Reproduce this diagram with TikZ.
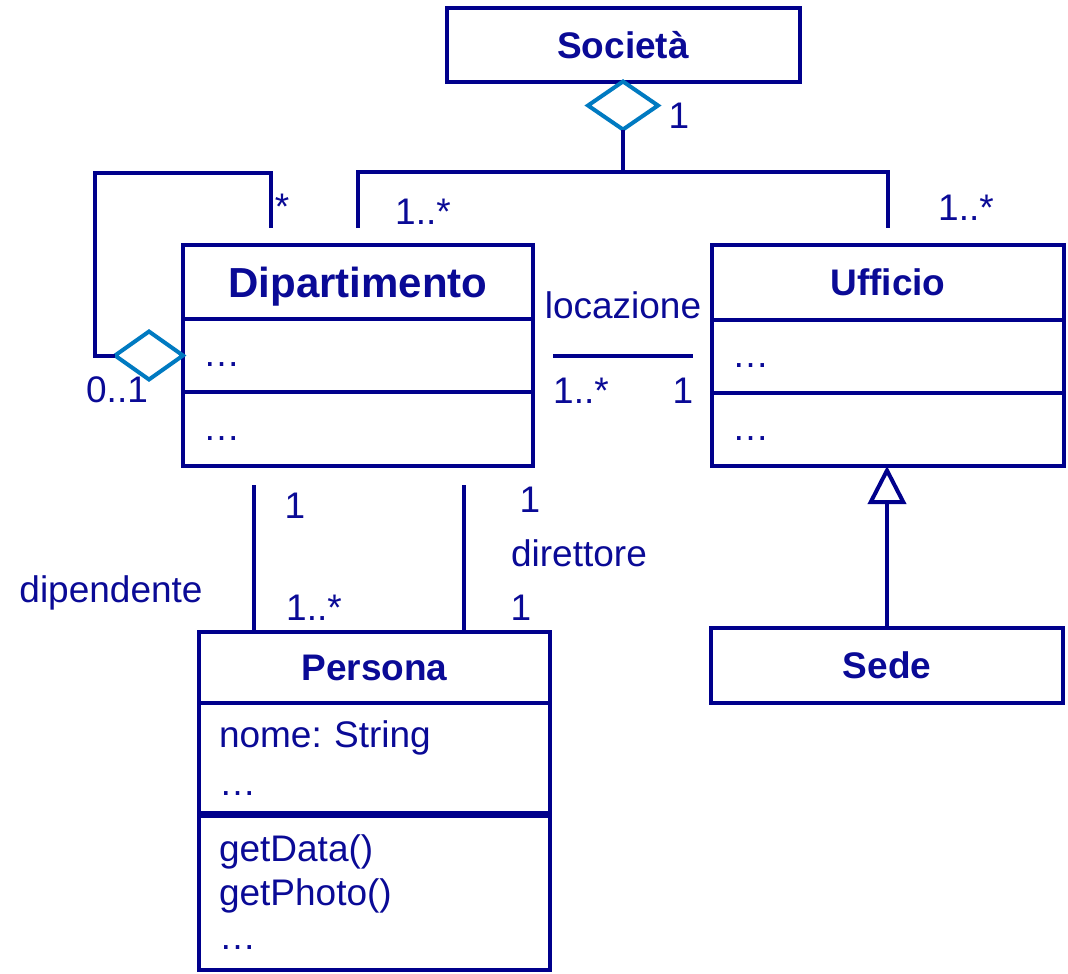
\documentclass[tikz,border=0pt]{standalone}
\usepackage{fontspec}
\setmainfont{Liberation Sans}
\usetikzlibrary{positioning, calc, shapes.geometric, arrows.meta}
\definecolor{umlline}{RGB}{0,0,140}
\definecolor{umltext}{RGB}{10,10,150}
\definecolor{umlaggr}{RGB}{0,122,193}
\frenchspacing
\newcommand{\umlfont}{\fontsize{37}{44}\selectfont}
\newcommand{\umlbold}{\fontsize{37}{44}\selectfont\bfseries}
\newcommand{\umlbig}{\fontsize{42}{50}\selectfont\bfseries}
\tikzset{
  every node/.append style={font=\umlfont, text=umltext, inner sep=0pt, outer sep=0pt},
  assoc/.style={draw=umlline, line width=4pt},
  classtitle/.style={assoc, minimum width=350pt, minimum height=74pt, font=\umlbold, text height=26.5pt, text depth=0pt},
  compart/.style={assoc, text width=310pt, inner xsep=20pt, minimum height=74pt, align=left},
  dotbox/.style={compart, text height=22pt, text depth=0pt},
  aggr/.style={diamond, draw=umlaggr, line width=4pt, fill=white, minimum width=70pt, minimum height=48pt},
  mult/.style={anchor=base},
}

\begin{document}
\begin{tikzpicture}[x=1pt, y=-1pt]
    \useasboundingbox (0,0) rectangle (1068,974);
    % classes
    \node[classtitle, minimum width=353pt, minimum height=73pt] (soc) at (623,45) {Società};
    \node[classtitle, font=\umlbig, text height=30pt] (dipT) at (358,282) {Dipartimento};
    \node[dotbox, below=0pt of dipT, minimum height=73pt] (dipA) {…};
    \node[dotbox, below=0pt of dipA] (dipO) {…};
    \node[classtitle, minimum width=352pt, minimum height=75pt] (ufT) at (888,282.5) {Ufficio};
    \node[dotbox, below=0pt of ufT, text width=312pt, minimum height=73pt] (ufA) {…};
    \node[dotbox, below=0pt of ufA, text width=312pt, minimum height=73pt] (ufO) {…};
    \node[classtitle, minimum width=352pt, minimum height=75pt] (sede) at (887,665.5) {Sede};
    \node[classtitle, minimum width=351pt, minimum height=71pt] (perT) at (374.5,667) {Persona};
    \node[compart, below=0pt of perT, text width=311pt, minimum height=112pt] (perA) {nome: String\\[4pt]…};
    \node[compart, below=0pt of perA, text width=311pt, minimum height=155pt] (perO) {getData()\\getPhoto()\\…};
    \draw[assoc, line width=7pt] (perA.south west) -- (perA.south east);
    % aggregations
    \node[aggr, below=0pt of soc] (socD) {};
    \node[aggr, left=0pt of dipA.west, minimum width=68pt] (selfD) {};
    \coordinate (bus) at (623,172);
    \coordinate (loopTL) at (95,173);
    \draw[assoc] (socD.south) -- (bus);
    \draw[assoc] ($(dipT.north)+(0,-17)$) |- (bus) -| ($(ufT.north)+(0,-17)$);
    \draw[assoc] (selfD.west) -| (loopTL) -| ($(dipT.north west)+(88,-17)$);
    % associations
    \draw[assoc, shorten <=20pt, shorten >=19pt] (dipA.east) -- (dipA.east -| ufA.west);
    \draw[assoc] ($(dipO.south west)+(71,19)$) coordinate (dep) -- (dep |- perT.north);
    \draw[assoc] ($(dipO.south west)+(281,19)$) coordinate (dir) -- (dir |- perT.north);
    % generalization
    \draw[assoc, -{Triangle[open, length=38pt, width=38pt]}] (sede.north) -- (sede.north |- ufO.south);
    % labels
    \node[mult] (socOne) at (679,128) {1};
    \node[mult] (selfMany) at (282,219) {*};
    \node[mult] (dipMany) at (423,224) {1..*};
    \node[mult] (ufMany) at (966,220) {1..*};
    \node[mult] (selfOne) at (117,402) {0..1};
    \node[mult] (locName) at (623,318) {locazione};
    \node[mult] (locDip) at (581,403) {1..*};
    \node[mult] (locUf) at (683,403) {1};
    \node[mult] (depOne) at (295,518) {1};
    \node[mult] (depMany) at (314,620) {1..*};
    \node[mult] (depName) at (111,602) {dipendente};
    \node[mult] (dirOne) at (530,512) {1};
    \node[mult] (dirName) at (579,566) {direttore};
    \node[mult] (dirOnePer) at (521,620) {1};
\end{tikzpicture}
\end{document}
